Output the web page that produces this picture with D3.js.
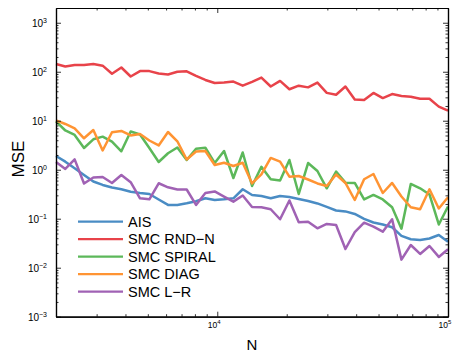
<!DOCTYPE html>
<html><head><meta charset="utf-8">
<script src="https://cdn.jsdelivr.net/npm/d3@7"></script>
<style>
html,body{margin:0;padding:0;background:#fff;}
text{font-family:"Liberation Sans",Arial,Helvetica,sans-serif;fill:#000;}
</style></head>
<body><svg id="c" width="455" height="352"></svg>
<script>
const N = [2000,2195,2409,2645,2903,3186,3497,3839,4214,4625,5077,5573,6117,6714,7370,8090,8880,9747,10699,11744,12891,14150,15532,17049,18714,20542,22548,24750,27167,29820,32733,35929,39438,43290,47518,52158,57252,62843,68980,75717,83111,91228,100000];
const seriesNames = ["AIS","SMC RND\u2212N","SMC SPIRAL","SMC DIAG","SMC L\u2212R"];
const seriesColors = ["#4a8cc4","#e8434a","#5cb85a","#ff9433","#a062b4"];
const ais = [1.91,1.46,1.07,0.781,0.575,0.489,0.434,0.399,0.356,0.335,0.320,0.247,0.191,0.191,0.207,0.227,0.261,0.241,0.249,0.261,0.399,0.305,0.291,0.261,0.291,0.278,0.253,0.230,0.205,0.174,0.147,0.141,0.125,0.0989,0.0838,0.0763,0.0669,0.0445,0.0381,0.0368,0.0395,0.0466,0.0340];
const rndN = [144,128,137,137,144,133,91,122,80,103,103,92,88,100,102,82,68,59,60,63,52,62,76,50,65,44,52,48,60,37,34,50,27,26.5,37,29,35,32,31,28,28,19.4,16];
const spiral = [9.66,6.32,5.12,2.78,4.18,4.73,3.74,2.38,6.03,5.24,2.78,1.44,2.17,2.85,1.58,2.68,2.81,1.37,2.41,0.678,2.25,0.466,1.15,0.638,0.603,1.58,0.320,1.37,0.943,0.418,0.912,0.544,0.537,0.247,0.305,0.247,0.171,0.0626,0.512,0.418,0.313,0.0763,0.178];
const diag = [10.2,8.59,7.01,4.38,6.48,2.47,5.81,6.18,5.00,5.37,3.95,3.13,5.89,3.81,1.62,2.36,2.41,1.25,1.39,1.19,1.39,0.524,0.80,1.74,1.46,0.722,0.745,0.632,0.524,0.466,0.80,0.537,0.241,0.638,0.819,0.335,0.537,0.284,0.171,0.156,0.399,0.162,0.274];
const lr = [1.44,1.04,1.63,0.524,0.695,0.711,0.537,0.781,0.557,0.261,0.249,0.529,0.438,0.395,0.395,0.191,0.335,0.360,0.282,0.223,0.298,0.174,0.171,0.156,0.0975,0.236,0.0851,0.0871,0.0638,0.0781,0.0745,0.0241,0.0532,0.0830,0.0689,0.0544,0.0975,0.0146,0.0291,0.0191,0.0278,0.0166,0.0238];
const yMajor = [1e-3,1e-2,1e-1,1e0,1e1,1e2,1e3];
const yExp = ["\u22123","\u22122","\u22121","0","1","2","3"];
const xMajor = [1e4,1e5];
const xExp = ["4","5"];
const xLabel = "N", yLabel = "MSE";

const svg = d3.select("#c");
const L=56, R=448, T=8, B=316.7;
const x = d3.scaleLog().domain([2000,1e5]).range([L,R]);
const y = d3.scaleLog().domain([1e-3,2e3]).range([B,T]);

const yMinor=[]; for(let d=-3; d<=3; d++) for(let k=2;k<=9;k++){const v=k*Math.pow(10,d); if(v<2000) yMinor.push(v);}
const xMinor=[]; for(let d=3; d<=4; d++) for(let k=2;k<=9;k++){const v=k*Math.pow(10,d); if(v>2000 && v<1e5) xMinor.push(v);}

// data lines
const series=[ais,rndN,spiral,diag,lr];
const line = d3.line().x((d,i)=>x(N[i])).y(d=>y(d));
const gl = svg.append("g");
series.forEach((s,k)=>{
  gl.append("path").datum(s).attr("d",line).attr("fill","none")
    .attr("stroke",seriesColors[k]).attr("stroke-width",2.5).attr("stroke-linejoin","round");
});

// axes
function styleAxis(g){g.select(".domain").attr("stroke","#000").attr("stroke-width",1.2);g.selectAll(".tick line").attr("stroke","#000").attr("stroke-width",0.8);g.selectAll("text").remove();}
svg.append("g").attr("transform",`translate(${L},0)`).call(d3.axisLeft(y).tickValues(yMajor).tickSize(-5).tickSizeOuter(0)).call(styleAxis);
svg.append("g").attr("transform",`translate(${L},0)`).call(d3.axisLeft(y).tickValues(yMinor).tickSize(-2.5).tickSizeOuter(0)).call(styleAxis);
svg.append("g").attr("transform",`translate(${R},0)`).call(d3.axisRight(y).tickValues(yMajor).tickSize(-5).tickSizeOuter(0)).call(styleAxis);
svg.append("g").attr("transform",`translate(${R},0)`).call(d3.axisRight(y).tickValues(yMinor).tickSize(-2.5).tickSizeOuter(0)).call(styleAxis);
svg.append("g").attr("transform",`translate(0,${B})`).call(d3.axisBottom(x).tickValues(xMajor).tickSize(-5).tickSizeOuter(0)).call(styleAxis);
svg.append("g").attr("transform",`translate(0,${B})`).call(d3.axisBottom(x).tickValues(xMinor).tickSize(-2.5).tickSizeOuter(0)).call(styleAxis);
svg.append("g").attr("transform",`translate(0,${T})`).call(d3.axisTop(x).tickValues(xMajor).tickSize(-5).tickSizeOuter(0)).call(styleAxis);
svg.append("g").attr("transform",`translate(0,${T})`).call(d3.axisTop(x).tickValues(xMinor).tickSize(-2.5).tickSizeOuter(0)).call(styleAxis);

// y tick labels
yMajor.forEach((v,i)=>{
  const t=svg.append("text").attr("x",47).attr("y",y(v)+4.6).attr("text-anchor","end").attr("font-size",10);
  t.append("tspan").text("10");
  t.append("tspan").attr("font-size",7).attr("dy",-4.8).text(yExp[i]);
});
// x tick labels
xMajor.forEach((v,i)=>{
  const t=svg.append("text").attr("y",B+11.5).attr("font-size",8.5);
  const a=t.append("tspan").text("10");
  t.append("tspan").attr("font-size",6).attr("dy",-4).text(xExp[i]);
  const w=a.node().getComputedTextLength();
  t.attr("x",x(v)-w);
});
svg.append("text").attr("x",(L+R)/2).attr("y",349.5).attr("text-anchor","middle").attr("font-size",15).text(xLabel);
svg.append("text").attr("transform",`translate(23.5,159) rotate(-90)`).attr("text-anchor","middle").attr("font-size",17).text(yLabel);

// legend
const lg = svg.append("g");
seriesNames.forEach((n,k)=>{
  const yy=221.7+k*17.5;
  lg.append("line").attr("x1",78).attr("x2",123).attr("y1",yy).attr("y2",yy).attr("stroke",seriesColors[k]).attr("stroke-width",2.2);
  lg.append("text").attr("x",128).attr("y",yy+5.2).attr("font-size",14.5).text(n);
});
</script></body></html>
